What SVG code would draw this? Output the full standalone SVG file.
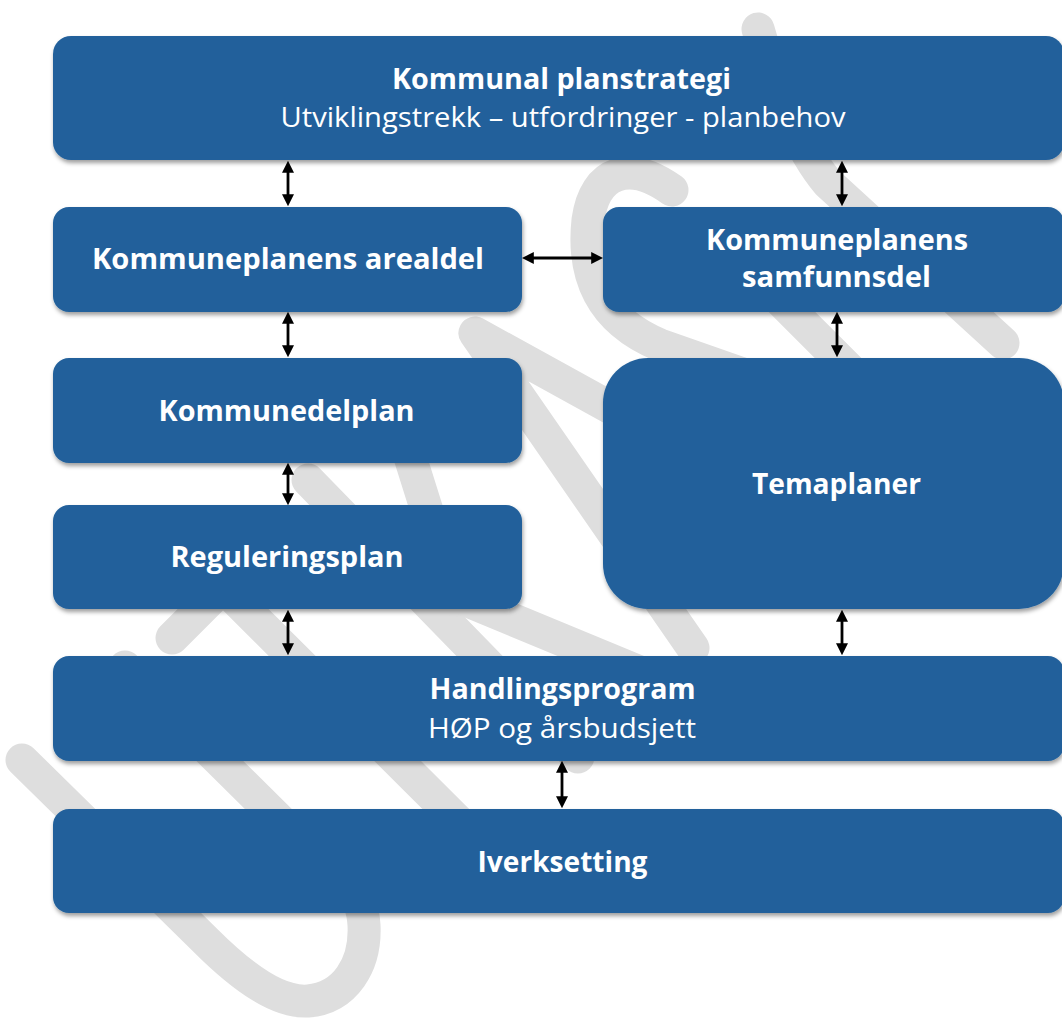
<svg xmlns="http://www.w3.org/2000/svg" width="1062" height="1021" viewBox="0 0 1062 1021">
  <defs>
    <filter id="shadow" x="-5%" y="-10%" width="110%" height="130%">
      <feDropShadow dx="1" dy="3" stdDeviation="2.2" flood-color="#000000" flood-opacity="0.38"/>
    </filter>
    <marker id="head" viewBox="0 0 10 10" refX="6.5" refY="5" markerWidth="12" markerHeight="12" markerUnits="userSpaceOnUse" orient="auto-start-reverse">
      <path d="M0,0 L10,5 L0,10 z" fill="#000000"/>
    </marker>
  </defs>
  <style>
    .box { fill: #22609b; filter: url(#shadow); }
    .wm { fill: none; stroke: #dedede; stroke-width: 33; stroke-linecap: round; stroke-linejoin: round; }
    .t { font-family: "Open Sans", "Noto Sans", "Liberation Sans", sans-serif; font-size: 28px; fill: #ffffff; text-anchor: middle; }
    .b { font-weight: 700; }
    .r { font-weight: 400; }
    .arrow { stroke: #000000; stroke-width: 2.8; fill: none; marker-start: url(#head); marker-end: url(#head); }
  </style>
  <rect x="0" y="0" width="1062" height="1021" fill="#ffffff"/>

  <g id="watermark">
    <path class="wm" d="M22 760 L205 940 C245 980 280 1003 308 1001 C345 998 366 965 364 925 C363 910 360 900 350 890 L125 667"/>
    <path class="wm" d="M172 638 L223 587 L500 863"/>
    <path class="wm" d="M308 480 L578 757"/>
    <path class="wm" d="M400 425 L455 600"/>
    <path class="wm" d="M680 446 L475 333 L693 648"/>
    <path class="wm" d="M410 577 L700 697"/>
    <path class="wm" d="M672 190 C630 160 595 170 588 220 C582 275 600 320 660 345 L760 380"/>
    <path class="wm" d="M720 240 L880 400"/>
    <path class="wm" d="M758 29 C775 90 800 150 828 183 L1003 343"/>
  </g>

  <g id="connectors">
    <line class="arrow" x1="288" y1="165" x2="288" y2="202"/>
    <line class="arrow" x1="842" y1="165" x2="842" y2="202"/>
    <line class="arrow" x1="526" y1="258" x2="599" y2="258"/>
    <line class="arrow" x1="288" y1="316" x2="288" y2="353"/>
    <line class="arrow" x1="837" y1="316" x2="837" y2="353"/>
    <line class="arrow" x1="288" y1="467" x2="288" y2="501"/>
    <line class="arrow" x1="288" y1="614" x2="288" y2="651"/>
    <line class="arrow" x1="842" y1="614" x2="842" y2="651"/>
    <line class="arrow" x1="562" y1="765" x2="562" y2="804"/>
  </g>

  <g id="node-planstrategi">
    <rect class="box" x="53" y="36" width="1011" height="124" rx="18"/>
    <text class="t b" x="561.5" y="89" textLength="339" lengthAdjust="spacingAndGlyphs">Kommunal planstrategi</text>
    <text class="t r" x="563" y="127" textLength="565" lengthAdjust="spacingAndGlyphs">Utviklingstrekk – utfordringer - planbehov</text>
  </g>

  <g id="node-arealdel">
    <rect class="box" x="53" y="207" width="469" height="105" rx="16"/>
    <text class="t b" x="288" y="269" textLength="392" lengthAdjust="spacingAndGlyphs">Kommuneplanens arealdel</text>
  </g>

  <g id="node-samfunnsdel">
    <rect class="box" x="603" y="207" width="461" height="105" rx="16"/>
    <text class="t b" x="837" y="250" textLength="262" lengthAdjust="spacingAndGlyphs">Kommuneplanens</text>
    <text class="t b" x="836.5" y="287" textLength="189" lengthAdjust="spacingAndGlyphs">samfunnsdel</text>
  </g>

  <g id="node-kommunedelplan">
    <rect class="box" x="53" y="358" width="469" height="105" rx="16"/>
    <text class="t b" x="286.5" y="421" textLength="256" lengthAdjust="spacingAndGlyphs">Kommunedelplan</text>
  </g>

  <g id="node-reguleringsplan">
    <rect class="box" x="53" y="505" width="469" height="104" rx="16"/>
    <text class="t b" x="287" y="567" textLength="233" lengthAdjust="spacingAndGlyphs">Reguleringsplan</text>
  </g>

  <g id="node-temaplaner">
    <rect class="box" x="603" y="358" width="461" height="251" rx="45"/>
    <text class="t b" x="836.5" y="494" textLength="169" lengthAdjust="spacingAndGlyphs">Temaplaner</text>
  </g>

  <g id="node-handlingsprogram">
    <rect class="box" x="53" y="656" width="1011" height="105" rx="16"/>
    <text class="t b" x="562.5" y="699" textLength="266" lengthAdjust="spacingAndGlyphs">Handlingsprogram</text>
    <text class="t r" x="562" y="738" textLength="268" lengthAdjust="spacingAndGlyphs">HØP og årsbudsjett</text>
  </g>

  <g id="node-iverksetting">
    <rect class="box" x="53" y="809" width="1011" height="104" rx="16"/>
    <text class="t b" x="562.5" y="872" textLength="170" lengthAdjust="spacingAndGlyphs">Iverksetting</text>
  </g>
</svg>
